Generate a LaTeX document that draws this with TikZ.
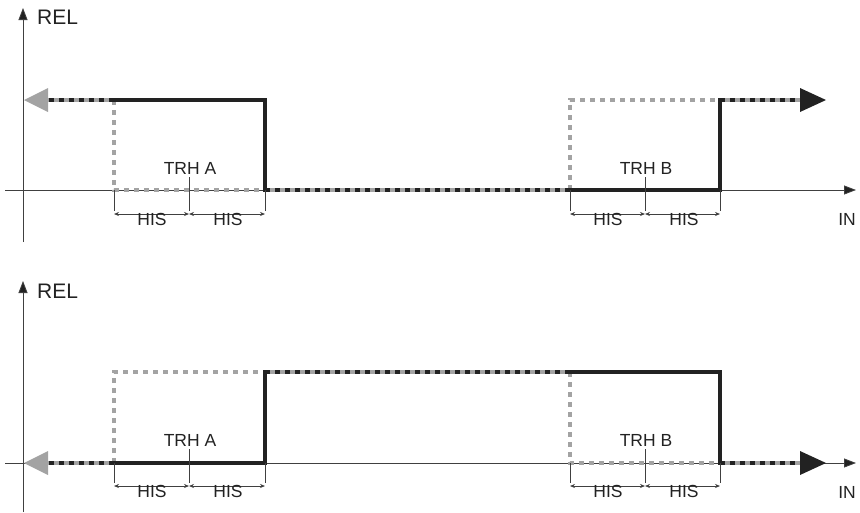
\documentclass[tikz,border=0pt]{standalone}
\usepackage{fontspec}
\setmainfont{Liberation Sans}
\usetikzlibrary{arrows.meta}
\definecolor{relblack}{HTML}{222222}
\definecolor{relgrey}{HTML}{A3A3A3}
\tikzset{
  axis/.style={draw=black!75,line width=0.8pt,-{Triangle[length=12pt,width=9pt,fill=relblack]}},
  line-on/.style={draw=relblack,line width=4.5pt,line cap=rect,line join=miter},
  line-off/.style={draw=relgrey,line width=4.5pt,dash pattern=on 5pt off 5pt},
  line-mix/.style={draw=relgrey,line width=4.5pt},
  line-mixtop/.style={draw=relblack,line width=4.5pt,dash pattern=on 5pt off 5pt},
  tip-grey/.style={draw=none,fill=relgrey},
  tip-black/.style={draw=none,fill=relblack},
  tick/.style={draw=black!75,line width=0.8pt},
  dim/.style={draw=black!75,line width=0.7pt,{Stealth[length=5pt,width=4pt]}-{Stealth[length=5pt,width=4pt]}},
  lbl/.style={font=\fontsize{17.5}{20}\selectfont,text=relblack,inner sep=1pt},
  lbl-big/.style={font=\fontsize{21}{24}\selectfont,text=relblack,inner sep=1pt},
}

\begin{document}
\begin{tikzpicture}[x=1pt,y=-1pt]
  \useasboundingbox (0,0) rectangle (860,512);

  % PANEL A: oppe
  \coordinate (a-xs) at (5,190);
  \coordinate (a-xe) at (856,190);
  \coordinate (a-ys) at (23,242);
  \coordinate (a-ye) at (23,8);
  \draw[axis] (a-xs) -- (a-xe);
  \draw[axis] (a-ys) -- (a-ye);
  \node[lbl-big,anchor=west] (a-rel) at (36,17.5) {REL};
  \node[lbl] (a-in) at (847,219) {IN};

  \coordinate (a-tip1) at (24,100);
  \coordinate (a-base1) at (48,100);
  \coordinate (a-hi1) at (114,100);
  \coordinate (a-hi2) at (265,100);
  \coordinate (a-lo1) at (114,190);
  \coordinate (a-lo2) at (265,190);
  \coordinate (a-lo3) at (570,190);
  \coordinate (a-lo4) at (720,190);
  \coordinate (a-hi3) at (570,100);
  \coordinate (a-hi4) at (720,100);
  \coordinate (a-base2) at (800,100);
  \coordinate (a-tip2) at (826,100);

  \draw[line-off] (a-hi1) -- (a-lo1) -- (a-lo2);
  \draw[line-off] (a-lo3) -- (a-hi3) -- (a-hi4);
  \draw[line-mix] (a-base1) -- (a-hi1);
  \draw[line-mixtop] (a-hi1) -- (a-base1);
  \draw[line-mix] (a-lo2) -- (a-lo3);
  \draw[line-mixtop] (a-lo2) -- (a-lo3);
  \draw[line-mix] (a-hi4) -- (a-base2);
  \draw[line-mixtop] (a-hi4) -- (a-base2);
  \fill[tip-grey] (a-tip1) -- ([yshift=-12pt]a-base1) -- ([yshift=12pt]a-base1) -- cycle;
  \fill[tip-black] (a-tip2) -- ([yshift=-12pt]a-base2) -- ([yshift=12pt]a-base2) -- cycle;
  \draw[line-on] (a-hi1) -- (a-hi2) -- (a-lo2);
  \draw[line-on] (a-lo3) -- (a-lo4) -- (a-hi4);

  % mål og terskel A
  \coordinate (a-t1) at (114,211);
  \coordinate (a-t2) at (189,211);
  \coordinate (a-t3) at (265,211);
  \coordinate (a-t2u) at (189,177);
  \draw[tick] (a-lo1) -- (a-t1);
  \draw[tick] (a-t2u) -- (a-t2);
  \draw[tick] (a-lo2) -- (a-t3);
  \draw[dim] ([yshift=-3pt]a-t1) -- ([yshift=-3pt]a-t2);
  \draw[dim] ([yshift=-3pt]a-t2) -- ([yshift=-3pt]a-t3);
  \node[lbl] (a-his1) at (152,219) {HIS};
  \node[lbl] (a-his2) at (228,219) {HIS};
  \node[lbl] (a-trha) at (190,168) {TRH A};

  % mål og terskel B
  \coordinate (a-t4) at (570,211);
  \coordinate (a-t5) at (645,211);
  \coordinate (a-t6) at (720,211);
  \coordinate (a-t5u) at (645,177);
  \draw[tick] (a-lo3) -- (a-t4);
  \draw[tick] (a-t5u) -- (a-t5);
  \draw[tick] (a-lo4) -- (a-t6);
  \draw[dim] ([yshift=-3pt]a-t4) -- ([yshift=-3pt]a-t5);
  \draw[dim] ([yshift=-3pt]a-t5) -- ([yshift=-3pt]a-t6);
  \node[lbl] (a-his3) at (608,219) {HIS};
  \node[lbl] (a-his4) at (684,219) {HIS};
  \node[lbl] (a-trhb) at (646,168) {TRH B};

  % PANEL B: nede
  \coordinate (b-xs) at (5,463);
  \coordinate (b-xe) at (856,463);
  \coordinate (b-ys) at (23,512);
  \coordinate (b-ye) at (23,281);
  \draw[axis] (b-xs) -- (b-xe);
  \draw[axis] (b-ys) -- (b-ye);
  \node[lbl-big,anchor=west] (b-rel) at (36,291) {REL};
  \node[lbl] (b-in) at (847,492) {IN};

  \coordinate (b-tip1) at (24,463);
  \coordinate (b-base1) at (48,463);
  \coordinate (b-lo1) at (114,463);
  \coordinate (b-lo2) at (265,463);
  \coordinate (b-hi1) at (114,372);
  \coordinate (b-hi2) at (265,372);
  \coordinate (b-hi3) at (570,372);
  \coordinate (b-hi4) at (720,372);
  \coordinate (b-lo3) at (570,463);
  \coordinate (b-lo4) at (720,463);
  \coordinate (b-base2) at (800,463);
  \coordinate (b-tip2) at (826,463);

  \draw[line-off] (b-lo1) -- (b-hi1) -- (b-hi2);
  \draw[line-off] (b-hi3) -- (b-lo3) -- (b-lo4);
  \draw[line-mix] (b-base1) -- (b-lo1);
  \draw[line-mixtop] (b-lo1) -- (b-base1);
  \draw[line-mix] (b-hi2) -- (b-hi3);
  \draw[line-mixtop] (b-hi2) -- (b-hi3);
  \draw[line-mix] (b-lo4) -- (b-base2);
  \draw[line-mixtop] (b-lo4) -- (b-base2);
  \fill[tip-grey] (b-tip1) -- ([yshift=-12pt]b-base1) -- ([yshift=12pt]b-base1) -- cycle;
  \fill[tip-black] (b-tip2) -- ([yshift=-12pt]b-base2) -- ([yshift=12pt]b-base2) -- cycle;
  \draw[line-on] (b-lo1) -- (b-lo2) -- (b-hi2);
  \draw[line-on] (b-hi3) -- (b-hi4) -- (b-lo4);

  % mål og terskel A
  \coordinate (b-t1) at (114,483);
  \coordinate (b-t2) at (189,483);
  \coordinate (b-t3) at (265,483);
  \coordinate (b-t2u) at (189,449);
  \draw[tick] (b-lo1) -- (b-t1);
  \draw[tick] (b-t2u) -- (b-t2);
  \draw[tick] (b-lo2) -- (b-t3);
  \draw[dim] ([yshift=-3pt]b-t1) -- ([yshift=-3pt]b-t2);
  \draw[dim] ([yshift=-3pt]b-t2) -- ([yshift=-3pt]b-t3);
  \node[lbl] (b-his1) at (152,491) {HIS};
  \node[lbl] (b-his2) at (228,491) {HIS};
  \node[lbl] (b-trha) at (190,440) {TRH A};

  % mål og terskel B
  \coordinate (b-t4) at (570,483);
  \coordinate (b-t5) at (645,483);
  \coordinate (b-t6) at (720,483);
  \coordinate (b-t5u) at (645,449);
  \draw[tick] (b-lo3) -- (b-t4);
  \draw[tick] (b-t5u) -- (b-t5);
  \draw[tick] (b-lo4) -- (b-t6);
  \draw[dim] ([yshift=-3pt]b-t4) -- ([yshift=-3pt]b-t5);
  \draw[dim] ([yshift=-3pt]b-t5) -- ([yshift=-3pt]b-t6);
  \node[lbl] (b-his3) at (608,491) {HIS};
  \node[lbl] (b-his4) at (684,491) {HIS};
  \node[lbl] (b-trhb) at (646,440) {TRH B};

\end{tikzpicture}
\end{document}
